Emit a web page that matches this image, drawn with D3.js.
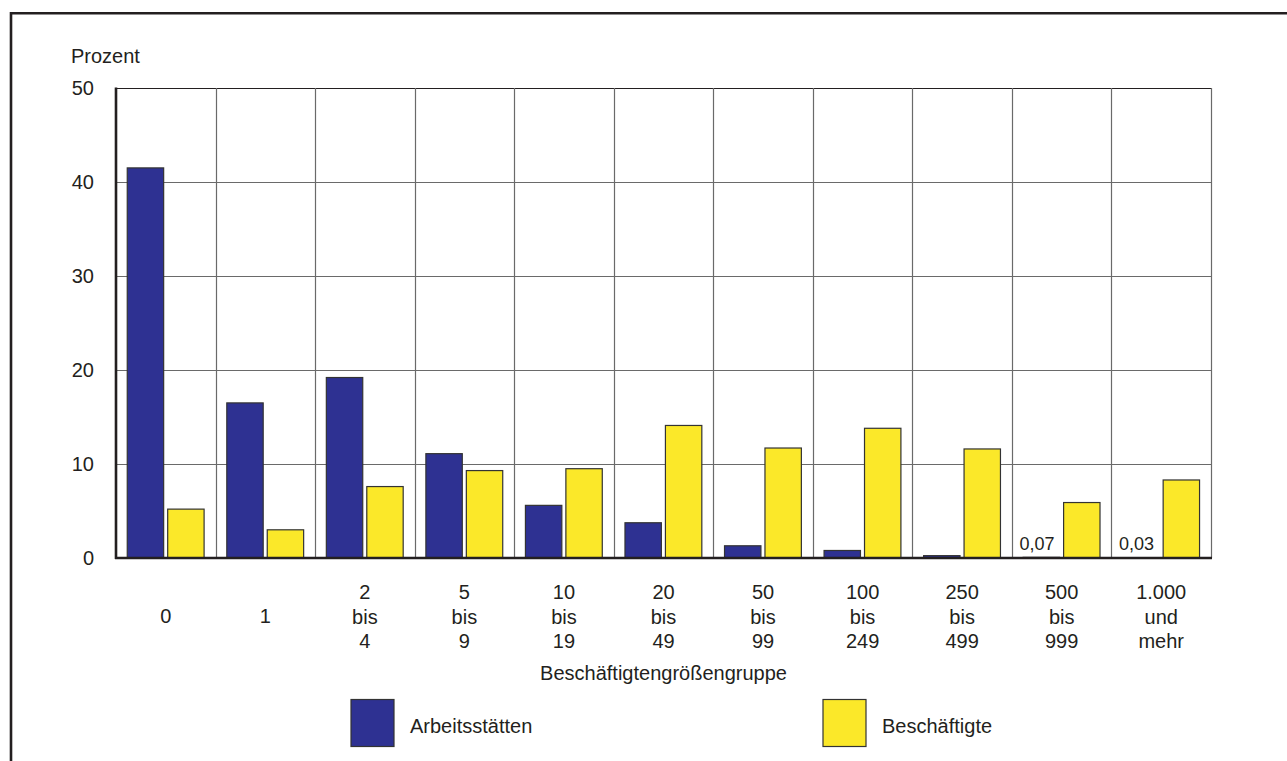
<!DOCTYPE html>
<html>
<head>
<meta charset="utf-8">
<script src="https://cdn.jsdelivr.net/npm/d3@7"></script>
<style>
  html, body { margin: 0; padding: 0; background: #fff; }
  svg { display: block; }
  text { font-family: "Liberation Sans", Arial, Helvetica, sans-serif; fill: #231f20; }
</style>
</head>
<body>
<svg id="chart" width="1287" height="761"></svg>
<script>
// ---- data ----
const categories = [
  ["0"], ["1"], ["2", "bis", "4"], ["5", "bis", "9"], ["10", "bis", "19"],
  ["20", "bis", "49"], ["50", "bis", "99"], ["100", "bis", "249"],
  ["250", "bis", "499"], ["500", "bis", "999"], ["1.000", "und", "mehr"]
];
const seriesNames = ["Arbeitsstätten", "Beschäftigte"];
const arbeitsstaetten = [41.5, 16.5, 19.2, 11.1, 5.6, 3.75, 1.3, 0.8, 0.25, 0.07, 0.03];
const beschaeftigte   = [5.2, 3.0, 7.6, 9.3, 9.5, 14.1, 11.7, 13.8, 11.6, 5.9, 8.3];
const smallLabels = [null, null, null, null, null, null, null, null, null, "0,07", "0,03"];
const yTicks = [0, 10, 20, 30, 40, 50];
const yTitle = "Prozent";
const xTitle = "Beschäftigtengrößengruppe";
const colors = ["#2e3192", "#fbe829"];

// ---- layout ----
const svg = d3.select("#chart");
const plot = { left: 116, right: 1211, top: 88, bottom: 558 };
const FS = 20;

const catKeys = categories.map((c, i) => i);
const x0 = d3.scaleBand().domain(catKeys).range([plot.left, plot.right]).paddingInner(0).paddingOuter(0);
const bw = x0.bandwidth();
const x1 = d3.scaleBand().domain(seriesNames).range([bw * 0.113, bw * 0.885]).paddingInner(0.1).paddingOuter(0);
const y = d3.scaleLinear().domain([0, 50]).range([plot.bottom, plot.top]);

// outer frame (top & left visible)
svg.append("line").attr("x1", 11).attr("x2", 1300).attr("y1", 13.3).attr("y2", 13.3)
  .attr("stroke", "#231f20").attr("stroke-width", 2.6);
svg.append("line").attr("x1", 11).attr("x2", 11).attr("y1", 12).attr("y2", 770)
  .attr("stroke", "#231f20").attr("stroke-width", 2.6);

// horizontal gridlines
const gGrid = svg.append("g");
gGrid.selectAll("line.h").data(yTicks.filter(t => t > 0)).join("line")
  .attr("x1", plot.left).attr("x2", plot.right)
  .attr("y1", d => Math.round(y(d)) + 0.5).attr("y2", d => Math.round(y(d)) + 0.5)
  .attr("stroke", d => d === 50 ? "#231f20" : "#6a6a6a").attr("stroke-width", 1.2);
// vertical gridlines
const vlines = d3.range(1, categories.length + 1).map(i => i === categories.length ? plot.right : x0(i));
gGrid.selectAll("line.v").data(vlines).join("line")
  .attr("x1", d => Math.round(d) + 0.5).attr("x2", d => Math.round(d) + 0.5)
  .attr("y1", plot.top).attr("y2", plot.bottom)
  .attr("stroke", "#6a6a6a").attr("stroke-width", 1.2);

// bars
const rows = catKeys.map(i => ({ i, vals: [arbeitsstaetten[i], beschaeftigte[i]] }));
const gBars = svg.append("g");
rows.forEach(r => {
  r.vals.forEach((v, s) => {
    const x = x0(r.i) + x1(seriesNames[s]);
    gBars.append("rect")
      .attr("x", x).attr("y", y(v))
      .attr("width", x1.bandwidth()).attr("height", Math.max(0, y(0) - y(v)))
      .attr("fill", colors[s]).attr("stroke", "#333").attr("stroke-width", 1.2);
  });
});

// small value labels
catKeys.forEach(i => {
  if (!smallLabels[i]) return;
  const xr = x0(i) + x1(seriesNames[0]) + x1.bandwidth();
  svg.append("text").attr("x", xr - 5).attr("y", y(0) - 8)
    .attr("text-anchor", "end").attr("font-size", 18).text(smallLabels[i]);
});

// axes lines
svg.append("line").attr("x1", plot.left).attr("x2", plot.left).attr("y1", plot.top - 0.5).attr("y2", plot.bottom + 1)
  .attr("stroke", "#231f20").attr("stroke-width", 2.6);
svg.append("line").attr("x1", plot.left - 1).attr("x2", plot.right + 1).attr("y1", plot.bottom).attr("y2", plot.bottom)
  .attr("stroke", "#231f20").attr("stroke-width", 2.6);

// y tick labels
svg.append("g").selectAll("text").data(yTicks).join("text")
  .attr("x", 94).attr("y", d => y(d)).attr("dy", "0.36em")
  .attr("text-anchor", "end").attr("font-size", FS).text(d => d);

// y title
svg.append("text").attr("x", 71).attr("y", 63).attr("font-size", FS).text(yTitle);

// x category labels
const lineGap = 24.5;
const gx = svg.append("g");
categories.forEach((lines, i) => {
  const cx = x0(i) + bw / 2;
  const startY = lines.length === 1 ? 623 : 599;
  lines.forEach((t, k) => {
    gx.append("text").attr("x", cx).attr("y", startY + k * lineGap)
      .attr("text-anchor", "middle").attr("font-size", FS).text(t);
  });
});

// x title
svg.append("text").attr("x", (plot.left + plot.right) / 2).attr("y", 680)
  .attr("text-anchor", "middle").attr("font-size", FS).text(xTitle);

// legend
const legendX = [351, 823];
seriesNames.forEach((name, s) => {
  svg.append("rect").attr("x", legendX[s]).attr("y", 699.5).attr("width", 43).attr("height", 47)
    .attr("fill", colors[s]).attr("stroke", "#333").attr("stroke-width", 1.2);
  svg.append("text").attr("x", legendX[s] + 59).attr("y", 733).attr("font-size", FS).text(name);
});
</script>
</body>
</html>
